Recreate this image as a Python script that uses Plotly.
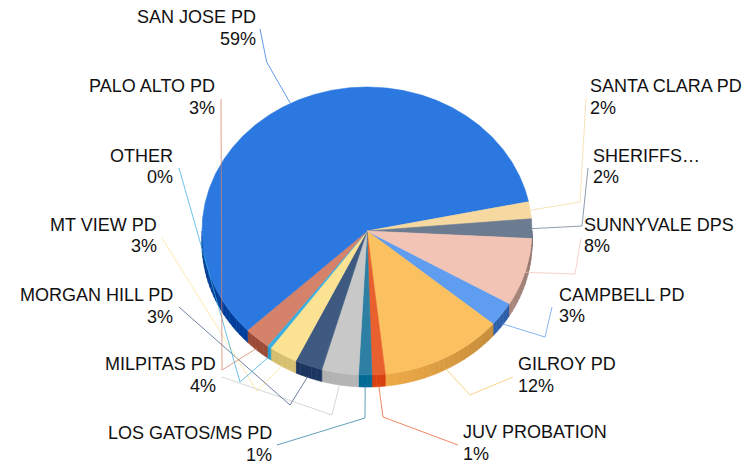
import numpy as np
import plotly.graph_objects as go

# ---------------- data ----------------
categories = ["CAMPBELL PD", "GILROY PD", "JUV PROBATION", "LOS GATOS/MS PD",
              "MILPITAS PD", "MORGAN HILL PD", "MT VIEW PD", "OTHER",
              "PALO ALTO PD", "SAN JOSE PD", "SANTA CLARA PD", "SHERIFFS…",
              "SUNNYVALE DPS"]
values = [2.75, 12.1, 1.3, 1.3, 3.6, 2.7, 2.8, 0.4, 2.6, 59.0, 1.9, 2.2, 7.6]

# ---------------- style ----------------
top_colors = ["#5E9DF0", "#FBC060", "#E8602E", "#2E7FA4", "#C8C8C8", "#3E5A80",
              "#FCE394", "#3AAEE0", "#D4826A", "#2A78E0", "#F5D9A0", "#6B7B90",
              "#F2C4B6"]
side_colors = ["#3A79D8", "#F4AE48", "#DC4110", "#006A96", "#B6B6B6", "#1C3763",
               "#E1CA76", "#2DA5D6", "#A6503A", "#0044AB", "#CDB27A", "#4A5568",
               "#DCB0A2"]

# label layout: side ('l' = right-aligned text left of pie), anchor x, baseline y
label_side = ["r", "r", "r", "l", "l", "l", "l", "l", "l", "l", "r", "r", "r"]
label_x = [558.3, 516.7, 461.7, 272.7, 216.5, 174.3, 157.7, 174.3, 216.0, 256.7,
           589.3, 592.3, 583.3]
label_base = [300.7, 370.0, 438.3, 439.0, 370.0, 301.0, 230.7, 161.7, 92.3, 23.3,
              92.3, 161.7, 230.7]
leader_elbow = [(545, 337), (470, 395), (383, 417), (365, 418), (332, 415),
                (290, 405), (257, 391), (240, 382), (222, 370), (266.7, 62),
                (580, 202), (582, 226), (575, 274)]
leader_end = [(552, 307), (513, 377), (458, 445), (277, 445), (222, 377),
              (179, 307), (162, 238), (179, 168), (221, 99), (260, 29),
              (586, 98), (588, 168), (581, 238)]

CX, CY, RX, RY, DEPTH = 367.0, 231.0, 165.0, 144.0, 12.0
START = 120.3
W, H = 755, 464
FONT = "Arial, Liberation Sans, sans-serif"


def pt(theta, dy=0.0):
    t = np.radians(theta)
    return CX + RX * np.sin(t), CY - RY * np.cos(t) + dy


def hex_to_rgb(h):
    h = h.lstrip("#")
    return [int(h[i:i + 2], 16) for i in (0, 2, 4)]


def shade(h, f):
    r, g, b = hex_to_rgb(h)
    c = [max(0, min(255, int(round(v * f)))) for v in (r, g, b)]
    return "rgb(%d,%d,%d)" % tuple(c)


def rgba(h, a):
    r, g, b = hex_to_rgb(h)
    return "rgba(%d,%d,%d,%.2f)" % (r, g, b, a)


total = float(sum(values))
spans = [v / total * 360.0 for v in values]
bounds = START + np.concatenate([[0.0], np.cumsum(spans)])
pcts = [int(round(v / total * 100)) for v in values]

fig = go.Figure()

# ---- side walls (front half only, 90..270 deg) ----
for i in range(len(values)):
    a0, a1 = bounds[i], bounds[i + 1]
    for off in (0.0, -360.0, 360.0):
        lo, hi = max(a0 + off, 90.0), min(a1 + off, 270.0)
        if hi <= lo:
            continue
        n = int(np.ceil((hi - lo) / 2.0))
        edges = np.linspace(lo, hi, n + 1)
        for j in range(n):
            t0, t1 = edges[j], edges[j + 1]
            ts = np.linspace(t0, t1, 4)
            xs_top, ys_top = pt(ts)
            xs_bot, ys_bot = pt(ts[::-1], DEPTH)
            xs = np.concatenate([xs_top, xs_bot, xs_top[:1]])
            ys = np.concatenate([ys_top, ys_bot, ys_top[:1]])
            tm = 0.5 * (t0 + t1)
            if tm < 180:
                f = 1 - 0.35 * (180 - tm) / 90.0
            else:
                f = 1 - 0.15 * (tm - 180) / 90.0
            col = shade(side_colors[i], f)
            fig.add_trace(go.Scatter(x=xs, y=ys, mode="lines", fill="toself",
                                     fillcolor=col, line=dict(color=col, width=0.6),
                                     hoverinfo="skip", showlegend=False))

# ---- top faces ----
for i in range(len(values)):
    a0, a1 = bounds[i], bounds[i + 1]
    n = max(3, int(np.ceil((a1 - a0) / 0.5)))
    ts = np.linspace(a0, a1, n + 1)
    xa, ya = pt(ts)
    xs = np.concatenate([[CX], xa, [CX]])
    ys = np.concatenate([[CY], ya, [CY]])
    fig.add_trace(go.Scatter(x=xs, y=ys, mode="lines", fill="toself",
                             fillcolor=top_colors[i],
                             line=dict(color=top_colors[i], width=0.6),
                             hoverinfo="skip", showlegend=False,
                             name=categories[i]))

# ---- leader lines ----
for i in range(len(values)):
    mid = 0.5 * (bounds[i] + bounds[i + 1])
    c = np.cos(np.radians(mid))
    dy = DEPTH * 0.8 if c < -0.3 else 0.0
    sx, sy = pt(mid, dy)
    ex, ey = leader_elbow[i]
    tx, ty = leader_end[i]
    fig.add_trace(go.Scatter(x=[sx, ex, tx], y=[sy, ey, ty], mode="lines",
                             line=dict(color=rgba(top_colors[i], 0.75), width=1),
                             hoverinfo="skip", showlegend=False))

# ---- labels ----
annotations = []
for i in range(len(values)):
    left = label_side[i] == "l"
    xa = "right" if left else "left"
    x = label_x[i] + (1 if left else -1)
    for k, txt in enumerate([categories[i], "%d%%" % pcts[i]]):
        base = label_base[i] + k * 21.7
        annotations.append(dict(x=x, y=base - 6.2, xref="x", yref="y",
                                text=txt, showarrow=False, xanchor=xa,
                                yanchor="middle",
                                font=dict(family=FONT, size=18, color="#111111")))

fig.update_layout(
    width=W, height=H, autosize=False,
    margin=dict(l=0, r=0, t=0, b=0),
    paper_bgcolor="white", plot_bgcolor="white",
    xaxis=dict(range=[0, W], visible=False, fixedrange=True),
    yaxis=dict(range=[H, 0], visible=False, fixedrange=True),
    annotations=annotations,
    showlegend=False,
)

fig.write_html("out.html",
               config={"displayModeBar": False, "staticPlot": True},
               post_script="document.body.style.margin='0';"
                           "document.body.style.overflow='hidden';")
